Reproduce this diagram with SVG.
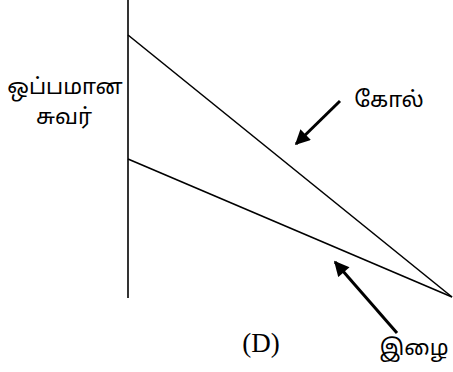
<svg xmlns="http://www.w3.org/2000/svg" width="453" height="372" viewBox="0 0 453 372">
<style>
.ln{stroke:#000;stroke-width:1.6;fill:none}
.ar{stroke:#000;stroke-width:3;fill:none}
.ta{font-family:"Noto Sans Tamil","Lohit Tamil","Noto Sans","DejaVu Sans",sans-serif;font-size:22px;fill:#000}
.lat{font-family:"Liberation Serif",serif;font-size:27px;fill:#000}
</style>
<defs>
<marker id="ah" viewBox="0 0 10 10" refX="9" refY="5" markerWidth="5.5" markerHeight="5" orient="auto" markerUnits="strokeWidth">
<path d="M0,0 L10,5 L0,10 z" fill="#000"/>
</marker>
</defs>
<g id="wall"><line class="ln" x1="128" y1="0" x2="128" y2="298"/></g>
<g id="rod"><line class="ln" x1="128" y1="35" x2="452" y2="297"/></g>
<g id="string"><line class="ln" x1="128" y1="159" x2="452" y2="297"/></g>
<g id="connectors">
<line class="ar" x1="340" y1="101" x2="296" y2="144" marker-end="url(#ah)"/>
<line class="ar" x1="397" y1="333" x2="335" y2="262" marker-end="url(#ah)"/>
</g>
<g id="labels">
<text class="ta" x="65" y="94" text-anchor="middle">ஒப்பமான</text>
<text class="ta" x="64" y="124" text-anchor="middle">சுவர்</text>
<text class="ta" x="389" y="107" text-anchor="middle">கோல்</text>
<text class="ta" x="414" y="355" text-anchor="middle">இழை</text>
<text class="lat" x="261" y="352" text-anchor="middle">(D)</text>
</g>
</svg>
